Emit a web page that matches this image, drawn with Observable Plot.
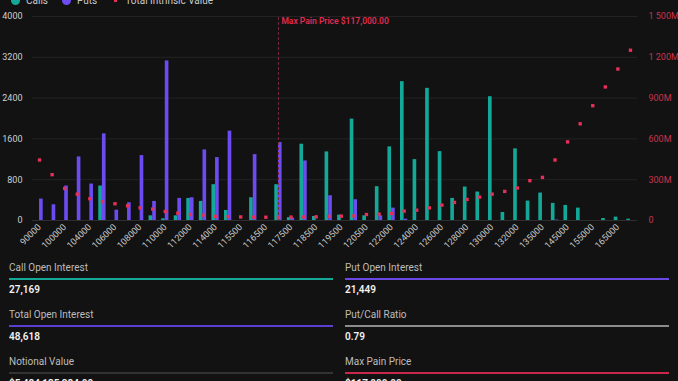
<!DOCTYPE html>
<html>
<head>
<meta charset="utf-8">
<script src="https://cdn.jsdelivr.net/npm/d3@7"></script>
<script src="https://cdn.jsdelivr.net/npm/@observablehq/plot@0.6"></script>
<style>
  html, body { margin: 0; padding: 0; background: #121212; overflow: hidden; }
  body { width: 678px; height: 381px; position: relative; font-family: Roboto, "Noto Sans", sans-serif; }
  #legend { position: absolute; top: -8px; left: 11px; display: flex; align-items: center; height: 16px;
            font-size: 10px; color: #c9c9c9; white-space: nowrap; }
  #legend .item { display: flex; align-items: center; margin-right: 14px; }
  #legend .sw { display: inline-block; margin-right: 6px; }
  #legend .circle { width: 9px; height: 9px; border-radius: 50%; }
  #legend .square { width: 3px; height: 3px; margin: 0 8px 0 3px; }
  #chart { position: absolute; top: 0; left: 0; }
  #stats { position: absolute; top: 261px; left: 9px; width: 660px; display: grid;
           grid-template-columns: 324px 324px; column-gap: 12px; }
  .stat { height: 47px; }
  .stat .label { height: 14px; line-height: 14px; font-size: 10px; color: #bdbdbd; }
  .stat .bar { height: 2px; margin-top: 3px; }
  .stat .value { height: 14px; line-height: 14px; margin-top: 3px; font-size: 10px; font-weight: 600; color: #f2f2f2; }
</style>
</head>
<body>
<div id="legend"></div>
<div id="chart"></div>
<div id="stats"></div>
<script>
// Strike prices (band categories) and open interest per strike
const strikes = ["90000","95000","100000","102000","104000","105000","106000","107000","108000","109000",
  "110000","111000","112000","113000","114000","115000","115500","116000","116500","117000",
  "117500","118000","118500","119000","119500","120000","120500","121000","122000","123000",
  "124000","125000","126000","127000","128000","129000","130000","131000","132000","134000",
  "135000","140000","145000","150000","155000","160000","165000","170000"];
const callOI = [0,0,0,0,0,676,0,0,0,92,
  33,92,433,374,702,197,0,446,0,702,
  55,1496,79,1345,105,1988,92,663,1443,2722,
  1194,2591,1351,433,656,558,2427,157,1404,380,
  538,335,295,243,0,39,66,26];
const putOI = [420,308,676,1246,715,1699,203,348,1273,374,
  3129,433,446,1384,1233,1752,0,1292,0,1528,
  45,1168,0,485,0,407,0,92,243,26,
  0,0,0,0,0,0,0,0,0,0,
  0,10,0,0,0,0,0,0];
// Total intrinsic value per strike, millions of USD
const intrinsicValue = [445,337,236,194,160,138,123,108,93,84,
  66,54,44,39,30,28,26,25,24,23,
  25,26,27,30,32,34,44,47,52,69,
  76,93,113,133,155,172,194,214,239,293,
  317,445,578,711,844,982,1114,1252];

const xTickLabels = ["90000","100000","104000","106000","108000","110000","112000","114000","115500","116500",
  "117500","118500","119500","120500","122000","124000","126000","128000","130000","132000",
  "135000","145000","155000","165000"];
const oiTicks = [0, 800, 1600, 2400, 3200, 4000];
const valueTickLabels = ["0", "300M", "600M", "900M", "1 200M", "1 500M"];
const valueMax = 1500;   // millions at the top of the right axis
const oiMax = 4000;      // contracts at the top of the left axis

const maxPainStrike = "117000";
const maxPainLabel = "Max Pain Price $117,000.00";

const legendNames = ["Calls", "Puts", "Total Intrinsic Value"];
const statLabels = ["Call Open Interest", "Put Open Interest", "Total Open Interest", "Put/Call Ratio", "Notional Value", "Max Pain Price"];
const statValues = ["27,169", "21,449", "48,618", "0.79", "$5,484,135,384.00", "$117,000.00"];

// Colours
const TEAL = "#13a898", PURPLE = "#6c4cf0", RED = "#e6305a";
const statColors = [TEAL, "#6a48e6", "#5a3fd0", "#8c8c8c", "#333333", "#c9284c"];

const rows = strikes.map((s, i) => ({strike: s, calls: callOI[i], puts: putOI[i], tiv: intrinsicValue[i]}));
const toOI = v => v * oiMax / valueMax;   // place intrinsic value on the shared y scale

const halfBar = 3.65;
const chart = Plot.plot({
  width: 678,
  height: 250,
  marginTop: 16,
  marginBottom: 30,
  marginLeft: 32,
  marginRight: 41,
  style: {background: "transparent", color: "#c8c8c8", fontFamily: "Roboto, sans-serif", fontSize: "9px"},
  x: {type: "band", domain: strikes, paddingInner: 0.42, paddingOuter: 0.27, round: false},
  y: {domain: [0, oiMax]},
  marks: [
    Plot.ruleY(oiTicks, {stroke: "#232323"}),
    Plot.ruleY([0], {stroke: "#2e2e2e"}),
    Plot.barY(rows, {x: "strike", y: "calls", fill: TEAL, insetRight: halfBar}),
    Plot.barY(rows, {x: "strike", y: "puts", fill: PURPLE, insetLeft: halfBar}),
    Plot.ruleX([maxPainStrike], {x: d => d, y1: 0, y2: oiMax, stroke: "#7e2640", strokeDasharray: "3,2", strokeWidth: 1}),
    Plot.text([maxPainLabel], {x: () => maxPainStrike, y: () => oiMax, text: d => d, dx: 3, dy: 5,
      textAnchor: "start", lineAnchor: "middle", fill: "#e2294f", fontWeight: 600, fontSize: 8.5}),
    Plot.dot(rows, {x: "strike", y: d => toOI(d.tiv), symbol: "square", r: 1.9, fill: RED}),
    Plot.axisY({ticks: oiTicks, tickFormat: d => String(d), tickSize: 0, tickPadding: 10, fill: "#cfcfcf", label: null}),
    Plot.axisY({anchor: "right", ticks: oiTicks, tickFormat: d => valueTickLabels[oiTicks.indexOf(d)],
      tickSize: 0, tickPadding: 11, fill: "#c8344f", label: null}),
    Plot.axisX({ticks: xTickLabels, tickRotate: -45, tickSize: 0, tickPadding: 5, fill: "#c8c8c8", label: null})
  ]
});
document.getElementById("chart").append(chart);

// Legend above the chart
const legendSwatches = [["circle", TEAL], ["circle", PURPLE], ["square", RED]];
const legend = document.getElementById("legend");
legendNames.forEach((name, i) => {
  const item = document.createElement("div");
  item.className = "item";
  const sw = document.createElement("span");
  sw.className = "sw " + legendSwatches[i][0];
  sw.style.background = legendSwatches[i][1];
  const txt = document.createElement("span");
  txt.textContent = name;
  item.append(sw, txt);
  legend.append(item);
});

// Summary statistics panel
const stats = document.getElementById("stats");
statLabels.forEach((label, i) => {
  const box = document.createElement("div");
  box.className = "stat";
  box.innerHTML = `<div class="label"></div><div class="bar"></div><div class="value"></div>`;
  box.querySelector(".label").textContent = label;
  box.querySelector(".bar").style.background = statColors[i];
  box.querySelector(".value").textContent = statValues[i];
  stats.append(box);
});
</script>
</body>
</html>
